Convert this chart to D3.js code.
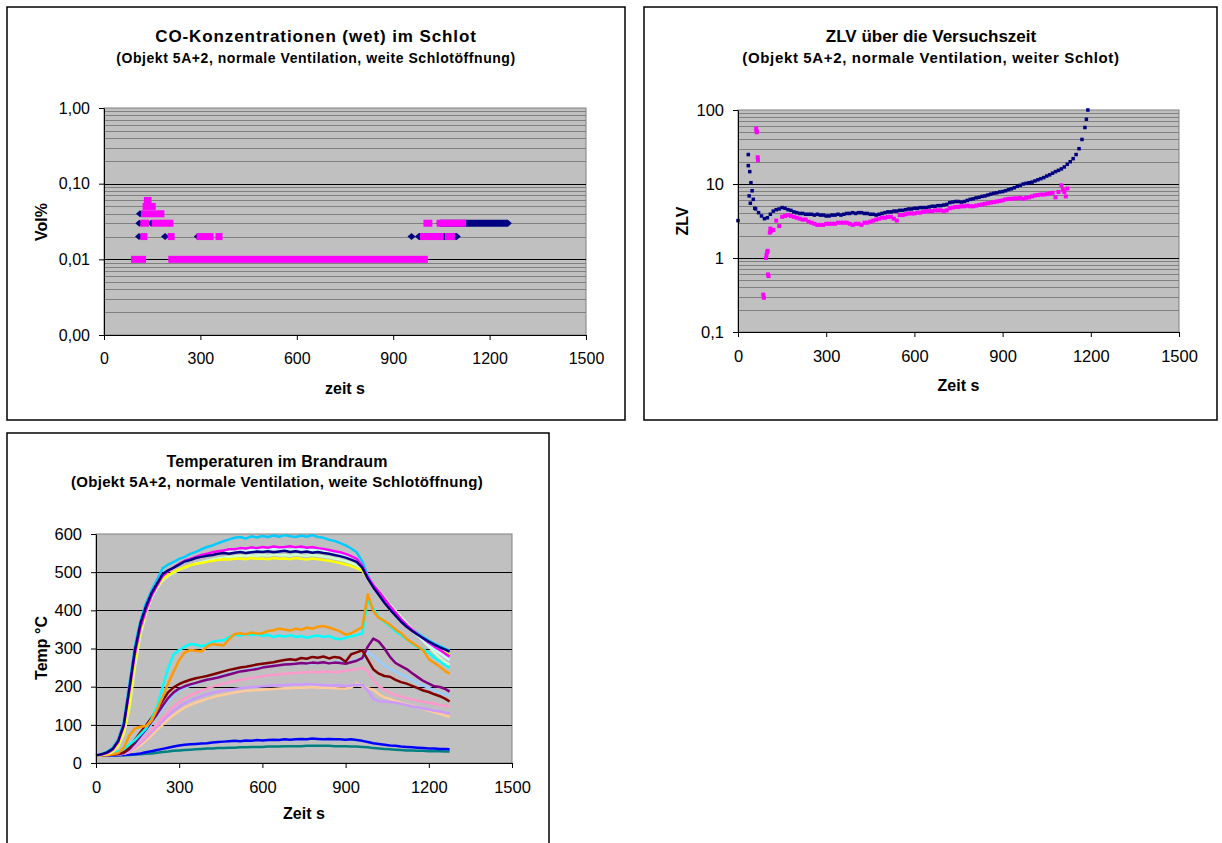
<!DOCTYPE html>
<html>
<head>
<meta charset="utf-8">
<script src="https://cdn.jsdelivr.net/npm/d3@7"></script>
<style>
  body { margin: 0; background: #fff; }
  svg { display: block; font-family: "Liberation Sans", Arial, sans-serif; }
</style>
</head>
<body>
<svg id="chart" width="1222" height="843"></svg>
<script>
// ---------- shared axis data ----------
const timeTicks = [0, 300, 600, 900, 1200, 1500];

// ---------- CO concentration (Vol%) ----------
const coTicks = [0.001, 0.01, 0.1, 1];
const coTickLabels = ["0,00", "0,01", "0,10", "1,00"];
// runs of identical readings: [first time s, last time s, Vol%]
const coNavyRuns = [
  [112, 112, 0.04], [110, 110, 0.03], [147, 147, 0.03],
  [109, 109, 0.02], [190, 190, 0.02], [292, 292, 0.02],
  [957, 957, 0.02], [980, 1098, 0.02], [1046, 1257, 0.03]
];
const coPinkRuns = [
  [95, 120, 0.01], [211, 997, 0.01],
  [124, 124, 0.02], [209, 209, 0.02], [299, 330, 0.02], [358, 358, 0.02],
  [994, 1046, 0.02], [1072, 1081, 0.02],
  [124, 129, 0.03], [159, 205, 0.03], [1005, 1011, 0.03], [1046, 1116, 0.03],
  [126, 177, 0.04], [131, 150, 0.05], [135, 137, 0.06]
];

// ---------- ZLV ----------
const zlvTicks = [0.1, 1, 10, 100];
const zlvTickLabels = ["0,1", "1", "10", "100"];
const zlvNavy = [
  [0,3.2],[35,25],[35,17.7],[38,6.9],[40,14.7],[42,5.5],[44,10.4],[48,8.1],[52,6.2],[57,4.7],
  [60,4.6],[70,4.1],[80,3.7],[90,3.4],[100,3.5],[110,3.9],[120,4.3],[130,4.5],[140,4.6],[150,4.8],
  [160,4.7],[170,4.5],[180,4.4],[190,4.2],[200,4.1],[210,4.0],[220,4.0],[230,3.9],[240,3.9],[250,3.9],
  [260,3.8],[270,3.9],[280,3.8],[290,3.8],[300,3.7],[310,3.7],[320,3.8],[330,3.8],[340,3.9],[350,3.8],
  [360,3.9],[370,4.0],[380,4.0],[390,4.1],[400,4.0],[410,4.1],[420,4.1],[430,4.0],[440,4.0],[450,3.9],
  [460,3.9],[470,3.8],[480,3.9],[490,4.0],[500,4.1],[510,4.2],[520,4.2],[530,4.3],[540,4.3],[550,4.4],
  [560,4.4],[570,4.5],[580,4.6],[590,4.6],[600,4.7],[610,4.7],[620,4.8],[630,4.8],[640,4.8],[650,4.9],
  [660,5.0],[670,5.0],[680,5.1],[690,5.1],[700,5.2],[710,5.3],[720,5.6],[730,5.7],[740,5.8],[750,5.8],
  [760,5.7],[770,5.8],[780,6.0],[790,6.2],[800,6.3],[810,6.5],[820,6.6],[830,6.8],[840,6.9],[850,7.1],
  [860,7.3],[870,7.5],[880,7.6],[890,7.8],[900,7.9],[910,8.1],[920,8.4],[930,8.6],[940,8.9],[950,9.3],
  [960,9.6],[970,10.0],[980,10.2],[990,10.4],[1000,10.6],[1010,11.0],[1020,11.4],[1030,11.8],[1040,12.2],[1050,12.8],
  [1060,13.3],[1070,14.0],[1080,14.7],[1090,15.3],[1100,16.0],[1110,17.0],[1120,18.5],[1130,20.0],[1140,22.0],[1150,25.0],
  [1160,30.0],[1170,40.0],[1180,58.0],[1185,75.0],[1190,100.0]
];
const zlvPink = [
  [62,56],[63,52],[64,50],[67,23],[68,21],[86,0.32],[88,0.29],[95,1.0],[97,1.1],[99,1.2],
  [101,1.25],[102,0.6],[104,0.57],[108,2.2],[110,2.5],[112,2.3],[115,2.4],
  [120,2.4],[130,3.2],[140,2.7],[150,3.6],[160,3.7],[170,3.8],[180,3.7],[190,3.6],[200,3.5],[210,3.4],
  [220,3.3],[230,3.3],[240,3.1],[250,3.0],[260,2.9],[270,2.8],[280,2.8],[290,2.8],[300,2.9],[310,2.9],
  [320,2.9],[330,2.9],[340,3.0],[350,3.0],[360,3.0],[370,3.0],[380,2.9],[390,2.8],[400,2.9],[410,2.9],
  [420,2.8],[430,3.0],[440,3.0],[450,3.1],[460,3.2],[470,3.3],[480,3.4],[490,3.5],[500,3.5],[510,3.6],
  [520,3.6],[530,3.4],[540,3.2],[550,3.8],[560,3.8],[570,3.9],[580,4.0],[590,4.0],[600,4.0],[610,4.1],
  [620,4.1],[630,4.2],[640,4.3],[650,4.3],[660,4.3],[670,4.4],[680,4.4],[690,4.4],[700,4.3],[710,4.4],
  [720,4.7],[730,4.8],[740,4.9],[750,4.9],[760,5.0],[770,5.0],[780,5.1],[790,5.0],[800,5.0],[810,5.1],
  [820,5.2],[830,5.3],[840,5.4],[850,5.5],[860,5.6],[870,5.7],[880,5.8],[890,5.9],[900,6.0],[910,6.2],
  [920,6.3],[930,6.3],[940,6.4],[950,6.4],[960,6.5],[970,6.3],[980,6.5],[990,6.6],[1000,6.8],[1010,7.0],
  [1020,7.1],[1030,7.2],[1040,7.2],[1050,7.3],[1060,7.5],[1070,7.6],[1080,6.6],[1090,7.8],[1100,9.6],[1105,8.4],
  [1110,7.8],[1115,6.8],[1120,8.7]
];

// ---------- Temperatures (°C) ----------
const tempTicks = [0, 100, 200, 300, 400, 500, 600];
const tempTimes = [0,20,40,60,80,100,120,140,160,180,200,220,240,260,280,300,320,340,360,380,
  400,420,440,460,480,500,520,540,560,580,600,620,640,660,680,700,720,740,760,780,
  800,820,840,860,880,900,920,940,960,980,1000,1020,1040,1060,1080,1100,1120,1140,1160,1180,
  1200,1220,1240,1260,1275];
const tSkyBlue = [20,24,30,40,62,108,205,305,372,418, 452,480,510,520,527,535,540,548,553,560,
  566,570,576,581,586,590,592,588,594,591, 595,592,596,593,597,594,592,596,593,597,
  592,590,585,582,576,570,562,552,528,492, 466,445,425,405,390,374,360,350,340,330, 321,313,306,299,295];
const tNavy = [20,23,28,37,58,100,195,295,365,410, 445,470,495,505,512,520,528,532,537,540,
  543,545,548,550,548,551,553,550,552,554, 553,555,552,554,556,553,555,552,554,551,
  553,550,548,545,542,538,533,527,512,483, 460,440,420,402,386,370,357,346,336,327, 318,310,303,297,292];
const tMagenta = [20,22,26,35,55,96,188,285,355,400, 438,465,490,503,512,522,530,535,540,545,
  548,552,555,557,560,560,563,562,565,563, 566,564,567,565,566,568,565,567,564,566,
  563,561,558,555,552,548,542,535,516,488, 466,449,430,411,394,377,362,349,337,326, 315,305,296,286,279];
const tTurquoise = [20,23,28,37,57,98,190,290,360,405, 440,468,492,504,512,520,527,533,538,542,
  546,549,552,554,556,557,558,556,559,558, 560,558,561,559,560,558,561,559,560,557,
  558,556,553,550,547,543,538,530,514,486, 463,445,425,406,389,373,359,346,334,322, 310,298,288,277,270];
const tYellow = [20,21,24,31,46,80,150,265,345,398, 440,462,482,492,500,508,513,518,522,524,
  527,530,532,534,533,535,536,534,537,535, 536,534,537,535,536,534,537,535,533,536,
  534,532,530,527,524,520,516,510,504,482, 460,440,421,403,387,372,358,346,336,326, 316,306,297,289,285];
const tLightGreen = [20,21,23,29,43,76,142,250,335,390, 432,458,478,490,498,506,512,518,522,526,
  530,533,536,538,540,541,543,542,544,543, 545,543,546,544,545,543,546,544,543,545,
  543,541,539,536,533,529,524,518,510,488, 468,451,433,415,399,383,367,351,335,320, 305,290,276,264,258];
const tOrange = [20,20,21,23,26,40,72,90,95,97, 110,140,172,208,240,270,290,296,294,292,
  305,312,310,308,325,338,340,337,342,339, 340,346,348,352,350,347,352,349,355,352,
  357,359,355,350,345,336,340,348,356,442, 398,380,372,362,350,340,325,315,305,295, 272,262,252,240,234];
const tCyan = [20,21,23,26,30,36,48,60,75,90, 115,148,198,248,285,296,305,312,310,306,
  310,318,320,322,330,336,334,338,335,337, 333,336,330,334,331,335,330,333,328,332,
  334,330,333,326,324,328,332,335,340,425, 405,382,370,358,345,335,324,313,303,298, 288,276,266,256,250];
const tMaroon = [20,20,21,22,24,28,40,60,80,98, 118,140,163,185,198,207,213,218,222,225,
  228,232,236,240,244,247,250,252,255,258, 260,262,264,267,270,272,270,275,273,278,
  276,279,274,278,276,265,285,290,295,270, 245,234,228,226,218,212,208,202,196,190, 186,180,175,168,161];
const tPurple = [20,20,21,22,23,26,36,52,70,88, 108,128,150,170,185,195,201,206,210,214,
  218,221,224,228,232,236,240,242,244,246, 250,252,254,256,258,259,260,262,261,263,
  262,264,261,263,262,260,264,268,275,305, 326,318,300,278,262,254,246,235,225,215, 208,201,199,194,187];
const tPaleBlue = [20,20,21,22,23,25,34,48,65,83, 102,122,143,162,178,190,197,203,208,213,
  218,222,226,230,234,238,241,244,246,249, 251,253,255,256,258,259,260,261,262,261,
  262,263,262,264,265,265,266,270,272,290, 280,268,256,248,240,232,225,218,210,203, 197,190,184,180,176];
const tRose = [20,20,21,22,23,24,30,42,56,70, 86,102,118,134,148,160,170,177,184,190,
  195,200,204,208,212,215,218,220,223,225, 227,229,231,232,234,235,236,237,238,239,
  238,240,239,238,240,242,244,246,250,240, 218,200,192,183,178,174,170,166,163,160, 158,155,152,150,148];
const tLavender = [20,20,21,22,23,24,29,40,52,65, 80,95,110,124,137,148,157,164,170,175,
  180,184,187,190,192,194,196,197,199,200, 201,202,203,204,204,205,206,205,207,206,
  205,204,203,204,203,202,203,205,204,190, 168,162,161,160,158,155,152,148,146,143, 140,137,135,132,130];
const tTan = [20,20,21,22,23,24,28,36,46,58, 72,86,100,114,126,136,145,152,158,163,
  168,172,176,179,182,185,187,189,190,191, 192,193,194,195,196,196,197,197,198,199,
  198,197,197,196,195,195,198,209,200,196, 192,180,172,168,162,158,154,150,146,142, 137,133,129,124,121];
const tBlue = [20,20,20,20,20,21,22,23,25,28, 31,34,37,40,43,46,48,49,50,51,
  52,54,55,56,57,58,57,59,58,60, 59,60,61,60,62,61,62,63,62,64,
  63,62,63,62,62,61,62,60,58,55, 52,50,48,46,45,43,42,41,40,39, 38,38,37,37,36];
const tTeal = [20,20,20,20,20,20,21,22,23,24, 25,27,29,30,32,33,34,35,36,37,
  38,38,39,39,40,40,41,41,42,42, 42,43,43,43,44,44,44,44,45,45,
  45,45,45,44,44,44,43,43,42,41, 39,38,37,36,35,34,33,33,32,32, 31,31,31,30,30];

// drawing order, back to front
const tempLines = [
  [tTeal, "#008080"], [tBlue, "#0000FF"], [tTan, "#FFCC99"], [tLavender, "#CC99FF"],
  [tRose, "#FF99CC"], [tPaleBlue, "#99CCFF"], [tPurple, "#800080"], [tMaroon, "#800000"],
  [tCyan, "#00FFFF"], [tOrange, "#FF9900"], [tSkyBlue, "#00CCFF"], [tLightGreen, "#CCFFCC"],
  [tYellow, "#FFFF00"], [tTurquoise, "#CCFFFF"], [tMagenta, "#FF00FF"], [tNavy, "#000080"]
];

// ---------- drawing ----------
const svg = d3.select("#chart");
const PLOT_BG = "#C0C0C0";

function panelFrame(x, y, w, h) {
  svg.append("rect").attr("x", x).attr("y", y).attr("width", w).attr("height", h)
    .attr("fill", "#fff").attr("stroke", "#000").attr("stroke-width", 1.5);
}

function titles(cx, y1, y2, t1, t2, s1, s2, ls1, ls2) {
  svg.append("text").attr("x", cx).attr("y", y1).attr("text-anchor", "middle")
    .attr("font-weight", "bold").attr("font-size", s1).attr("letter-spacing", ls1).text(t1);
  svg.append("text").attr("x", cx).attr("y", y2).attr("text-anchor", "middle")
    .attr("font-weight", "bold").attr("font-size", s2).attr("letter-spacing", ls2).text(t2);
}

function axisTitles(x, y, xt, yt, yTitleX, yTitleY, xTitleY) {
  svg.append("text").attr("x", (x.range()[0] + x.range()[1]) / 2).attr("y", xTitleY)
    .attr("text-anchor", "middle").attr("font-weight", "bold").attr("font-size", 16).text(xt);
  svg.append("text").attr("transform", `translate(${yTitleX},${yTitleY}) rotate(-90)`)
    .attr("text-anchor", "middle").attr("font-weight", "bold").attr("font-size", 16).text(yt);
}

function drawAxes(g, x, y, yTicks, yLabels, fs) {
  const [x0, x1] = x.range();
  const [yb, yt] = y.range();
  const ax = g.append("g").attr("transform", `translate(0,${yb})`)
    .call(d3.axisBottom(x).tickValues(timeTicks).tickFormat(d => String(d))
      .tickSize(5).tickSizeOuter(0).tickPadding(13));
  const ay = g.append("g").attr("transform", `translate(${x0},0)`)
    .call(d3.axisLeft(y).tickValues(yTicks).tickFormat((d, i) => yLabels[i])
      .tickSize(5).tickSizeOuter(0).tickPadding(9));
  [ax, ay].forEach(a => {
    a.selectAll("path.domain").attr("stroke", "#000").attr("stroke-width", 1);
    a.selectAll(".tick line").attr("stroke", "#000");
    a.selectAll(".tick text").attr("fill", "#000").attr("font-size", fs)
      .attr("font-family", "'Liberation Sans', Arial, sans-serif");
  });
}

function plotArea(g, x, y) {
  const [x0, x1] = x.range();
  const [yb, yt] = y.range();
  g.append("rect").attr("x", x0).attr("y", yt).attr("width", x1 - x0).attr("height", yb - yt)
    .attr("fill", PLOT_BG).attr("stroke", "#808080").attr("stroke-width", 1);
}

function logGrid(g, x, y, decades) {
  const [x0, x1] = x.range();
  const minor = [];
  decades.slice(0, -1).forEach(d => { for (let k = 2; k <= 9; k++) minor.push(d * k); });
  g.append("g").selectAll("line").data(minor).join("line")
    .attr("x1", x0).attr("x2", x1).attr("y1", d => Math.round(y(d)) + 0.5).attr("y2", d => Math.round(y(d)) + 0.5)
    .attr("stroke", "#808080").attr("stroke-width", 1);
  g.append("g").selectAll("line").data(decades.slice(1, -1)).join("line")
    .attr("x1", x0).attr("x2", x1).attr("y1", d => Math.round(y(d)) + 0.5).attr("y2", d => Math.round(y(d)) + 0.5)
    .attr("stroke", "#000").attr("stroke-width", 1);
}

// ===== Panel 1: CO =====
panelFrame(7, 7, 618, 413);
titles(316, 42, 63, "CO-Konzentrationen (wet) im Schlot",
  "(Objekt 5A+2, normale Ventilation, weite Schlotöffnung)", 17, 14, 0.9, 0.55);
{
  const g = svg.append("g");
  const x = d3.scaleLinear().domain([0, 1500]).range([104, 586]);
  const y = d3.scaleLog().domain([0.001, 1]).range([335, 108]);
  plotArea(g, x, y);
  logGrid(g, x, y, coTicks);
  const s = 7;
  g.append("g").selectAll("path").data(coNavyRuns).join("path")
    .attr("fill", "#000080")
    .attr("d", r => {
      const a = x(r[0]), b = x(r[1]), c = y(r[2]), h = s / 2;
      return `M${a - h - 0.5},${c}L${a},${c - h}L${b},${c - h}L${b + h + 0.5},${c}L${b},${c + h}L${a},${c + h}Z`;
    });
  g.append("g").selectAll("rect").data(coPinkRuns).join("rect")
    .attr("fill", "#FF00FF")
    .attr("x", r => x(r[0]) - s / 2).attr("width", r => x(r[1]) - x(r[0]) + s)
    .attr("y", r => y(r[2]) - s / 2).attr("height", s);
  drawAxes(g, x, y, coTicks, coTickLabels, 16);
  axisTitles(x, y, "zeit s", "Vol%", 47, 222, 394);
}

// ===== Panel 2: ZLV =====
panelFrame(644, 7, 573, 413);
titles(931, 42, 63, "ZLV über die Versuchszeit",
  "(Objekt 5A+2, normale Ventilation, weiter Schlot)", 17, 15, 0, 0.65);
{
  const g = svg.append("g");
  const x = d3.scaleLinear().domain([0, 1500]).range([738, 1179]);
  const y = d3.scaleLog().domain([0.1, 100]).range([332, 110]);
  plotArea(g, x, y);
  logGrid(g, x, y, zlvTicks);
  const sn = 3.5, sp = 4;
  g.append("g").selectAll("rect").data(zlvNavy).join("rect")
    .attr("fill", "#000080")
    .attr("x", d => x(d[0]) - sn / 2).attr("y", d => y(d[1]) - sn / 2)
    .attr("width", sn).attr("height", sn);
  g.append("g").selectAll("rect").data(zlvPink).join("rect")
    .attr("fill", "#FF00FF")
    .attr("x", d => x(d[0]) - sp / 2).attr("y", d => y(d[1]) - sp / 2)
    .attr("width", sp).attr("height", sp);
  drawAxes(g, x, y, zlvTicks, zlvTickLabels, 16.5);
  axisTitles(x, y, "Zeit s", "ZLV", 688, 221, 391);
}

// ===== Panel 3: temperatures =====
panelFrame(7, 433, 542, 425);
titles(277, 467, 487, "Temperaturen im Brandraum",
  "(Objekt 5A+2, normale Ventilation, weite Schlotöffnung)", 16, 15, 0.1, 0.3);
{
  const g = svg.append("g");
  const x = d3.scaleLinear().domain([0, 1500]).range([96, 512]);
  const y = d3.scaleLinear().domain([0, 600]).range([763, 534]);
  plotArea(g, x, y);
  g.append("g").selectAll("line").data(tempTicks.slice(1, -1)).join("line")
    .attr("x1", x(0)).attr("x2", x(1500))
    .attr("y1", d => Math.round(y(d)) + 0.5).attr("y2", d => Math.round(y(d)) + 0.5)
    .attr("stroke", "#000").attr("stroke-width", 1);
  const line = d3.line().x((d, i) => x(tempTimes[i])).y(d => y(d));
  g.append("g").attr("fill", "none").attr("stroke-width", 2.5).attr("stroke-linejoin", "round")
    .selectAll("path").data(tempLines).join("path")
    .attr("stroke", d => d[1]).attr("d", d => line(d[0]));
  drawAxes(g, x, y, tempTicks, tempTicks.map(String), 16.5);
  axisTitles(x, y, "Zeit s", "Temp °C", 47, 648, 819);
}
</script>
</body>
</html>
